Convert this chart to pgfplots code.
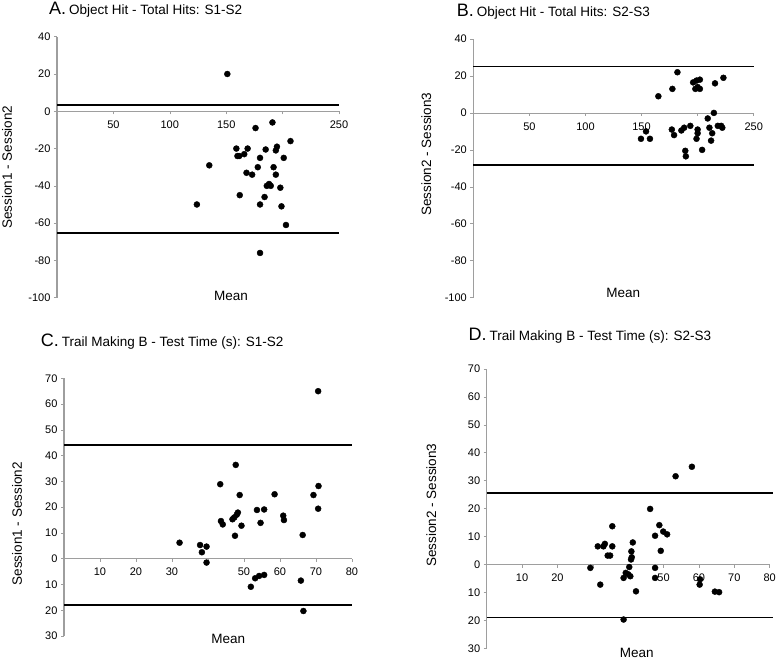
\documentclass[border=0pt]{standalone}
\usepackage{pgfplots}
\pgfplotsset{compat=1.18}
\usepackage{fontspec}
\setmainfont{Liberation Sans}

\pgfplotsset{
  ba/.style={
    scale only axis,
    anchor=south west,
    clip=false,
    axis x line=middle,
    axis y line=left,
    axis line style={-, draw=black!38},
    x axis line style={line width=0.8pt},
    y axis line style={line width=1.5pt},
    tick style={draw=black!38, line width=0.6pt},
    major tick length=3pt,
    tick align=outside,
    /pgf/number format/assume math mode=true,
    ticklabel style={font=\fontsize{11}{13}\selectfont},
    xticklabel style={yshift=-3pt},
    label style={font=\fontsize{13.5}{15}\selectfont},
  },
  pts/.style={only marks, mark=*, mark size=3pt, black},
  loa/.style={black, line width=1.8pt, no marks},
}

\begin{document}
\begin{tikzpicture}
\useasboundingbox (0,0) rectangle (776pt,-660pt);

% ---------- A ----------
\begin{axis}[ba,
  at={(57pt,-297.7pt)}, width=282pt, height=261pt,
  xmin=0, xmax=250, ymin=-100, ymax=40,
  xtick={50,100,150,200,250}, xticklabels={50,100,150,,250},
  ytick={-100,-80,...,40},
  ylabel={Session1 - Session2},
  ylabel style={at={(rel axis cs:-0.177,0.5)}, anchor=center},
  xlabel={Mean},
  xlabel style={at={(rel axis cs:0.617,-0.009)}, anchor=base},
]
\addplot[loa] coordinates {(0,3.4) (250,3.4)};
\addplot[loa] coordinates {(0,-65.1) (250,-65.1)};
\addplot[pts] table {
151 20
176 -9
191 -6
207 -16
159 -20
169 -20
160 -24
161.5 -24
166 -23
185 -20.5
195 -19
194 -21
180 -25
201 -25
135 -29
178 -30
192 -30
168 -33
173 -34
194 -34
186 -40
188 -39
189.5 -40
198 -41
162 -45
184 -46
124 -50
180 -50
199 -51
203 -61
180 -76
};
\end{axis}

% ---------- B ----------
\begin{axis}[ba,
  at={(473.3pt,-297.7pt)}, width=280.4pt, height=258.7pt,
  xmin=0, xmax=250, ymin=-100, ymax=40,
  xtick={50,100,150,200,250}, xticklabels={50,100,150,,250},
  ytick={-100,-80,...,40},
  ylabel={Session2 - Session3},
  ylabel style={at={(rel axis cs:-0.168,0.555)}, anchor=center},
  xlabel={Mean},
  xlabel style={at={(rel axis cs:0.535,0)}, anchor=base},
]
\addplot[loa] coordinates {(0,25.1) (250,25.1)};
\addplot[loa] coordinates {(0,-28.3) (250,-28.3)};
\addplot[pts] table {
182 22
177.5 13
165 9
196 16.5
199 17.5
202 18
198 13
202 13
200 14
215.5 16
223 19
214.5 0
209 -3
210.5 -8
218 -7
221 -7
222 -8
213 -11
212 -15
204 -20
200 -9
200 -11
199 -14
193.5 -7
188 -8
185.5 -9.5
177 -9
179 -12
154 -10
149.5 -14
157.5 -14
189 -20.5
189.5 -23.5
};
\end{axis}

% ---------- C ----------
\begin{axis}[ba,
  at={(64pt,-636pt)}, width=288pt, height=257.7pt,
  xmin=0, xmax=80, ymin=-30, ymax=70,
  xtick={10,20,...,80}, xticklabels={10,20,30,,50,60,70,80},
  ytick={-30,-20,...,70}, yticklabels={30,20,10,0,10,20,30,40,50,60,70},
  ylabel={Session1 - Session2},
  ylabel style={at={(rel axis cs:-0.163,0.435)}, anchor=center},
  xlabel={Mean},
  xlabel style={at={(rel axis cs:0.570,-0.031)}, anchor=base},
]
\addplot[loa] coordinates {(0,44.1) (80,44.1)};
\addplot[loa] coordinates {(0,-18) (80,-18)};
\addplot[pts] table {
32.1 6.2
37.8 5.3
39.6 4.7
38.3 2.5
39.6 -1.5
43.4 28.9
47.7 36.4
43.6 14.6
44.1 13.3
47.5 8.9
48.8 24.7
48.3 17.9
48.0 17.1
47.3 16.0
46.8 15.3
49.3 12.8
53.6 18.9
55.6 19.1
54.6 13.9
58.5 25.0
60.9 16.7
61.1 15.0
66.3 9.2
69.3 24.7
70.7 28.2
70.6 19.4
70.6 65.0
51.9 -10.9
53.1 -7.6
54.2 -6.7
55.6 -6.3
65.8 -8.5
66.5 -20.3
};
\end{axis}

% ---------- D ----------
\begin{axis}[ba,
  at={(486.7pt,-648.3pt)}, width=283pt, height=279.3pt,
  xmin=0, xmax=80, ymin=-30, ymax=70,
  xtick={10,20,...,80}, xticklabels={10,20,,,50,60,70,80},
  ytick={-30,-20,...,70}, yticklabels={30,20,10,0,10,20,30,40,50,60,70},
  ylabel={Session2 - Session3},
  ylabel style={at={(rel axis cs:-0.196,0.513)}, anchor=center},
  xlabel={Mean},
  xlabel style={at={(rel axis cs:0.53,-0.033)}, anchor=base},
]
\addplot[black, line width=1.8pt, no marks] coordinates {(0,25.7) (81,25.7)};
\addplot[black, line width=1.4pt, no marks] coordinates {(0,-18.9) (81,-18.9)};
\addplot[pts] table {
58.0 35.0
53.4 31.6
46.2 19.9
35.5 13.7
48.8 14.1
49.9 11.8
51.0 10.8
47.6 10.3
49.2 4.9
31.4 6.5
33.0 6.5
33.4 7.4
35.5 6.5
34.2 3.2
34.9 3.2
41.3 7.9
40.9 4.7
41.0 2.6
40.8 1.8
40.3 -0.9
29.3 -1.2
47.6 -1.2
39.3 -3.0
40.0 -3.5
40.6 -4.2
38.7 -4.8
47.6 -4.8
32.1 -7.2
42.2 -9.6
60.3 -5.3
60.2 -7.2
64.5 -9.7
65.7 -9.9
38.7 -19.7
};
\end{axis}

% ---------- titles ----------
\node[anchor=base west, inner sep=0pt] at (49pt,-15pt) {\fontsize{18}{18}\selectfont A.\,\fontsize{13.5}{15}\selectfont Object Hit - Total Hits: S1-S2};
\node[anchor=base west, inner sep=0pt] at (456.7pt,-16.7pt) {\fontsize{18}{18}\selectfont B.\,\fontsize{13.5}{15}\selectfont Object Hit - Total Hits: S2-S3};
\node[anchor=base west, inner sep=0pt] at (40.7pt,-346.7pt) {\fontsize{18}{18}\selectfont C.\,\fontsize{13.5}{15}\selectfont Trail Making B - Test Time (s): S1-S2};
\node[anchor=base west, inner sep=0pt] at (468.3pt,-340pt) {\fontsize{18}{18}\selectfont D.\,\fontsize{13.5}{15}\selectfont Trail Making B - Test Time (s): S2-S3};
\end{tikzpicture}
\end{document}
